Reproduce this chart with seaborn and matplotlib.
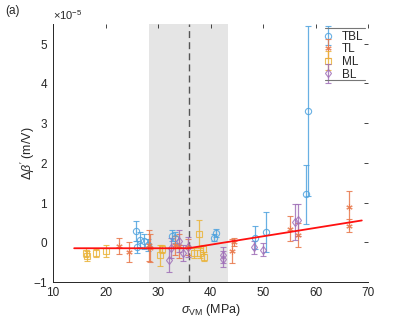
import numpy as np
import matplotlib
matplotlib.use("Agg")
import matplotlib.pyplot as plt
import seaborn as sns
from matplotlib.ticker import ScalarFormatter
from matplotlib.legend_handler import HandlerErrorbar

# data, y values in units of 1e-5 m/V
tbl_x = [25.7, 25.9, 26.6, 27.3, 28.1, 32.6, 33.3, 40.7, 41.0, 48.4, 50.6, 58.2, 58.5]
tbl_y = [0.28, -0.12, 0.07, 0.02, -0.07, 0.16, 0.12, 0.12, 0.23, 0.12, 0.26, 1.21, 3.31]
tbl_e = [0.25, 0.15, 0.2, 0.18, 0.15, 0.14, 0.14, 0.1, 0.1, 0.3, 0.5, 0.74, 2.15]

tl_x = [22.6, 24.4, 28.2, 28.4, 33.2, 33.9, 35.7, 44.1, 44.5, 55.1, 56.6, 66.3, 66.3]
tl_y = [-0.1, -0.25, -0.08, -0.15, -0.08, -0.1, -0.12, -0.21, 0.0, 0.34, 0.19, 0.9, 0.42]
tl_e = [0.2, 0.25, 0.4, 0.35, 0.25, 0.3, 0.2, 0.3, 0.1, 0.31, 0.3, 0.38, 0.17]

ml_x = [16.3, 16.5, 18.1, 20.0, 30.4, 30.8, 36.9, 37.8, 37.9, 38.6, 38.7]
ml_y = [-0.26, -0.34, -0.27, -0.21, -0.33, -0.17, -0.27, 0.21, -0.27, -0.18, -0.36]
ml_e = [0.12, 0.12, 0.1, 0.15, 0.27, 0.1, 0.12, 0.34, 0.12, 0.12, 0.12]

bl_x = [32.0, 32.4, 34.0, 34.8, 35.6, 42.3, 42.3, 48.3, 49.9, 56.1, 56.6]
bl_y = [-0.44, -0.15, 0.03, -0.27, -0.12, -0.32, -0.43, -0.13, -0.19, 0.51, 0.57]
bl_e = [0.3, 0.25, 0.28, 0.2, 0.25, 0.2, 0.2, 0.16, 0.16, 0.45, 0.4]

fit_x = [14.0, 35.8, 68.8]
fit_y = [-0.15, -0.15, 0.55]

band = (28.2, 43.3)
kink = 35.8

sns.set_style("white")
plt.rcParams['font.family'] = ['Liberation Sans', 'DejaVu Sans']
plt.rcParams['mathtext.fontset'] = 'custom'
plt.rcParams['mathtext.rm'] = 'Liberation Sans'
plt.rcParams['mathtext.it'] = 'Liberation Sans:italic'

fig = plt.figure(figsize=(4.09, 3.19), dpi=100)
ax = fig.add_axes([0.13, 0.116, 0.77, 0.809])

ax.axvspan(band[0], band[1], color='#e5e5e5', lw=0, zorder=0)
ax.axvline(kink, color='#555555', lw=1, ls=(0, (5, 3)), zorder=1)

series = [
    ("TBL", tbl_x, tbl_y, tbl_e, '#4fa3df', 'o'),
    ("TL", tl_x, tl_y, tl_e, '#e8774a', (6, 2, 0)),
    ("ML", ml_x, ml_y, ml_e, '#eab43a', 's'),
    ("BL", bl_x, bl_y, bl_e, '#a070b8', 'd'),
]
handles = []
for name, x, y, e, c, m in series:
    h = ax.errorbar(np.array(x), np.array(y) * 1e-5, yerr=np.array(e) * 1e-5,
                    marker=m, linestyle='none', color=c, mfc='none', mec=c,
                    ms=4.5, mew=0.8, elinewidth=0.9, capsize=2, capthick=0.8,
                    alpha=0.85, label=name, zorder=3)
    handles.append(h)

sns.lineplot(x=fit_x, y=np.array(fit_y) * 1e-5, color='#ff1010', lw=1.3, ax=ax, zorder=4)

ax.set_xlim(10, 70)
ax.set_ylim(-1e-5, 5.5e-5)
ax.set_xticks(np.arange(10, 71, 10))
ax.set_yticks(np.arange(-1, 6) * 1e-5)
fmt = ScalarFormatter(useMathText=True)
fmt.set_powerlimits((-3, 3))
ax.yaxis.set_major_formatter(fmt)
ax.yaxis.get_offset_text().set_fontsize(8)

for s in ['top', 'right']:
    ax.spines[s].set_visible(False)
for s in ['left', 'bottom']:
    ax.spines[s].set_color('#262626')
    ax.spines[s].set_linewidth(0.7)
ax.tick_params(direction='in', length=3, width=0.6, labelsize=8.5,
               top=True, right=True, colors='#262626')

ax.set_xlabel(r'$\sigma_{\rm VM}$ (MPa)', fontsize=9, labelpad=2)
ax.set_ylabel(r"$\Delta\beta'$ (m/V)", fontsize=9)
ax.yaxis.set_label_coords(-0.05, 0.5)

leg = ax.legend(handles=handles, loc='upper right', bbox_to_anchor=(0.99, 0.978),
                borderaxespad=0, frameon=False, fontsize=8.5, handlelength=1.0,
                handletextpad=0.7, labelspacing=0.05, borderpad=0.1,
                handler_map={type(handles[0]): HandlerErrorbar(xerr_size=0.0, yerr_size=0.8)})
for yy in (0.984, 0.783):
    ax.plot([0.862, 0.99], [yy, yy], transform=ax.transAxes,
            color='#777777', lw=0.8, clip_on=False, zorder=6)

fig.text(0.012, 0.955, '(a)', fontsize=8.5)

fig.savefig('out.png', dpi=100)
